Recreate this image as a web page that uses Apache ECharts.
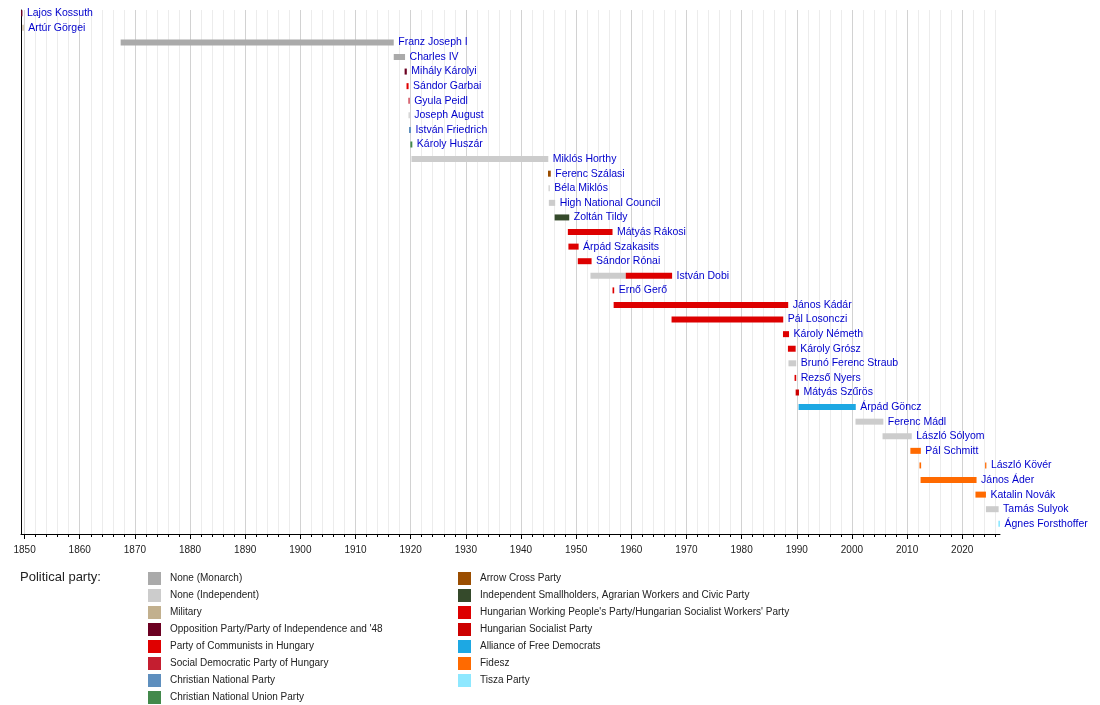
<!DOCTYPE html>
<html>
<head>
<meta charset="utf-8">
<title>Heads of state of Hungary</title>
<script src="https://cdn.jsdelivr.net/npm/echarts@6/dist/echarts.min.js"></script>
<style>
  html, body { margin: 0; padding: 0; background: #fff; }
  #chart { width: 1100px; height: 705px; }
</style>
</head>
<body>
<div id="chart"></div>
<script>
// rows, top to bottom
const leaders = [
  'Lajos Kossuth', 'Artúr Görgei', 'Franz Joseph I', 'Charles IV', 'Mihály Károlyi',
  'Sándor Garbai', 'Gyula Peidl', 'Joseph August', 'István Friedrich', 'Károly Huszár',
  'Miklós Horthy', 'Ferenc Szálasi', 'Béla Miklós', 'High National Council', 'Zoltán Tildy',
  'Mátyás Rákosi', 'Árpád Szakasits', 'Sándor Rónai', 'István Dobi', 'Ernő Gerő',
  'János Kádár', 'Pál Losonczi', 'Károly Németh', 'Károly Grósz', 'Brunó Ferenc Straub',
  'Rezső Nyers', 'Mátyás Szűrös', 'Árpád Göncz', 'Ferenc Mádl', 'László Sólyom',
  'Pál Schmitt', 'László Kövér', 'János Áder', 'Katalin Novák', 'Tamás Sulyok',
  'Ágnes Forsthoffer'
]

const parties = [
  'None (Monarch)',
  'None (Independent)',
  'Military',
  "Opposition Party/Party of Independence and '48",
  'Party of Communists in Hungary',
  'Social Democratic Party of Hungary',
  'Christian National Party',
  'Christian National Union Party',
  'Arrow Cross Party',
  'Independent Smallholders, Agrarian Workers and Civic Party',
  "Hungarian Working People's Party/Hungarian Socialist Workers' Party",
  'Hungarian Socialist Party',
  'Alliance of Free Democrats',
  'Fidesz',
  'Tisza Party'
]

const partyColors = [
  '#aaaaaa', '#cccccc', '#c2b08e', '#6b0021', '#e00000',
  '#c41e30', '#5e8fbe', '#43894b', '#9a4d00', '#354a2b',
  '#dd0000', '#cc0000', '#1da8e3', '#ff6a00', '#8ee8ff'
]

// one entry per bar: row (index in leaders), start year, end year, party (index in parties)
const segRow   = [0, 1, 2, 3, 4, 5, 6, 7, 8, 9,
                  10, 11, 12, 13, 14, 15, 16, 17, 18, 18,
                  19, 20, 21, 22, 23, 24, 25, 26, 27, 28,
                  29, 30, 31, 31, 32, 33, 34, 35]
const segStart = [1849.30, 1849.61, 1867.42, 1916.93, 1918.90, 1919.25, 1919.60, 1919.62, 1919.70, 1919.95,
                  1920.15, 1944.90, 1945.00, 1945.05, 1946.10, 1948.50, 1948.60, 1950.30, 1952.60, 1959.00,
                  1956.60, 1956.80, 1967.30, 1987.50, 1988.40, 1988.50, 1989.60, 1989.80, 1990.33, 2000.65,
                  2005.55, 2010.60, 2012.25, 2024.15, 2012.45, 2022.40, 2024.30, 2026.55]
const segEnd   = [1849.61, 1849.63, 1916.93, 1918.98, 1919.30, 1919.62, 1919.62, 1919.66, 1920.05, 1920.30,
                  1944.95, 1945.40, 1945.10, 1946.20, 1948.75, 1956.60, 1950.45, 1952.80, 1959.00, 1967.40,
                  1956.90, 1988.45, 1987.55, 1988.60, 1989.80, 1989.90, 1989.90, 1990.40, 2000.70, 2005.70,
                  2010.85, 2012.50, 2012.55, 2024.38, 2022.60, 2024.30, 2026.60, 2026.85]
const segParty = [3, 2, 0, 0, 3, 4, 5, 1, 6, 7,
                  1, 8, 1, 1, 9, 10, 10, 10, 1, 10,
                  10, 10, 10, 10, 10, 1, 10, 11, 12, 1,
                  1, 13, 13, 13, 13, 13, 1, 14]

const yearMin = 1849.35
const yearMax = 2026.85
const majorTicks = [1850, 1860, 1870, 1880, 1890, 1900, 1910, 1920, 1930, 1940,
                    1950, 1960, 1970, 1980, 1990, 2000, 2010, 2020]
const minorTicks = []
for (let y = 1852; y <= 2026; y += 2) {
  if (y % 10 !== 0) minorTicks.push(y)
}

const FONT = '"Liberation Sans", Arial, sans-serif'

// the name goes after the last bar of each row
const labelSeg = {}
segRow.forEach((r, i) => {
  if (labelSeg[r] === undefined || segEnd[i] > segEnd[labelSeg[r]]) labelSeg[r] = i
})

function renderBar(params, api) {
  const idx = api.value(3)
  const s = api.coord([api.value(0), api.value(2)])
  const e = api.coord([api.value(1), api.value(2)])
  const h = 6
  const w = Math.max(e[0] - s[0], 1.2)
  const cs = params.coordSys
  const shape = echarts.graphic.clipRectByRect(
    { x: s[0], y: s[1] - h / 2, width: w, height: h },
    { x: cs.x, y: cs.y, width: cs.width, height: cs.height }
  )
  const children = []
  if (shape) {
    children.push({ type: 'rect', shape: shape, style: { fill: api.visual('color') } })
  }
  if (labelSeg[segRow[idx]] === idx) {
    children.push({
      type: 'text',
      x: s[0] + w + 4.5,
      y: s[1],
      style: {
        text: leaders[segRow[idx]],
        fill: '#0000cc',
        fontSize: 10.5,
        fontFamily: FONT,
        align: 'left',
        verticalAlign: 'middle'
      }
    })
  }
  return { type: 'group', children: children }
}

const series = parties.map((p, k) => {
  const data = []
  segParty.forEach((sp, i) => {
    if (sp === k) data.push([segStart[i], segEnd[i], segRow[i], i])
  })
  return {
    type: 'custom',
    name: p,
    xAxisIndex: 0,
    yAxisIndex: 0,
    itemStyle: { color: partyColors[k] },
    renderItem: renderBar,
    encode: { x: [0, 1], y: 2 },
    data: data
  }
})

const legendBase = {
  orient: 'vertical',
  top: 572,
  padding: 0,
  itemWidth: 13,
  itemHeight: 13,
  itemGap: 4,
  icon: 'rect',
  selectedMode: false,
  textStyle: { fontSize: 10, color: '#222', fontFamily: FONT, padding: [0, 0, 0, 4] }
}

const gridBox = { left: 21, right: 100, top: 10, bottom: 171, containLabel: false }

const chart = echarts.init(document.getElementById('chart'))
chart.setOption({
  animation: false,
  backgroundColor: '#fff',
  title: {
    text: 'Political party:',
    left: 20,
    top: 571,
    padding: 0,
    textStyle: { fontSize: 13, fontWeight: 'normal', color: '#222', fontFamily: FONT }
  },
  legend: [
    Object.assign({}, legendBase, { left: 148, data: parties.slice(0, 8) }),
    Object.assign({}, legendBase, { left: 458, data: parties.slice(8) })
  ],
  // grid 1 only carries the 2-year minor lines, under grid 0
  grid: [
    Object.assign({}, gridBox, { z: 1 }),
    Object.assign({}, gridBox)
  ],
  xAxis: [
    {
      type: 'value',
      gridIndex: 0,
      position: 'bottom',
      min: yearMin,
      max: yearMax,
      axisLine: { show: true, onZero: false, lineStyle: { color: '#000', width: 1 } },
      axisTick: { show: true, customValues: majorTicks, length: 5, lineStyle: { color: '#000' } },
      axisLabel: {
        customValues: majorTicks,
        formatter: v => String(v),
        fontSize: 10,
        color: '#222',
        fontFamily: FONT,
        margin: 11
      },
      splitLine: { show: true, lineStyle: { color: '#d2d2d2', width: 1 } }
    },
    {
      type: 'value',
      gridIndex: 1,
      position: 'bottom',
      min: yearMin,
      max: yearMax,
      axisLine: { show: false, onZero: false },
      axisTick: { show: true, customValues: minorTicks, length: 3, lineStyle: { color: '#000' } },
      axisLabel: { show: false },
      splitLine: { show: true, lineStyle: { color: '#ececec', width: 1 } },
      z: -1
    }
  ],
  yAxis: [
    {
      type: 'value',
      gridIndex: 0,
      inverse: true,
      min: -0.22,
      max: 35.7,
      axisLine: { show: true, onZero: false, lineStyle: { color: '#000', width: 1 } },
      axisTick: { show: false },
      axisLabel: { show: false },
      splitLine: { show: false }
    },
    {
      type: 'value',
      gridIndex: 1,
      inverse: true,
      min: -0.22,
      max: 35.7,
      axisLine: { show: false },
      axisTick: { show: false },
      axisLabel: { show: false },
      splitLine: { show: false }
    }
  ],
  series: series
})
</script>
</body>
</html>
